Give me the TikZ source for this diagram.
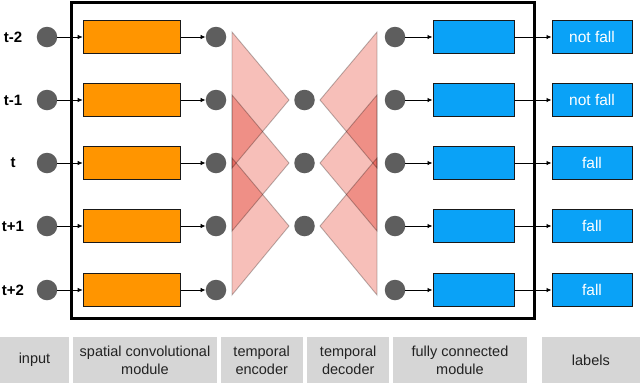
\documentclass[tikz,border=0pt]{standalone}
\usepackage{fontspec}
\setmainfont{Liberation Sans}
\usetikzlibrary{arrows.meta}
\definecolor{dotc}{HTML}{5E5E5E}
\definecolor{orng}{HTML}{FF9500}
\definecolor{blu}{HTML}{0AA2F7}
\definecolor{tril}{HTML}{F7BFB9}
\definecolor{triedge}{HTML}{BBBBBB}
\definecolor{capgray}{HTML}{D6D6D6}
\definecolor{captext}{HTML}{222222}
\begin{document}
\begin{tikzpicture}[x=1pt,y=-1pt,
  dotn/.style={circle,fill=dotc,minimum size=20.5pt,inner sep=0pt},
  obox/.style={draw=black!90,line width=1pt,fill=orng,minimum width=97pt,minimum height=33pt,inner sep=0pt},
  bbox/.style={draw=black!90,line width=1pt,fill=blu,minimum width=81pt,minimum height=33pt,inner sep=0pt},
  lbox/.style={bbox,minimum width=80pt,text=white,font=\fontsize{15.5}{17}\selectfont},
  tlabel/.style={font=\bfseries\fontsize{15}{17}\selectfont,inner sep=0pt},
  arr/.style={-{Latex[length=5pt,width=4.5pt]},line width=0.8pt,black},
  tri/.style={fill=tril,draw=triedge,line width=0.9pt,line join=miter},
  capbox/.style={fill=capgray,minimum height=46pt,inner sep=0pt,align=center,text=captext,font=\fontsize{14.5}{18}\selectfont},
  frame/.style={draw=black,line width=3pt}
]
\useasboundingbox (0,0) rectangle (640,384);
\fill[white] (0,0) rectangle (640,384);

% triangles (encoder and decoder)
\begin{scope}[blend group=multiply]
  \foreach \a/\b/\c in {37/100/163,100/163/226,163/226/290}{
    \draw[tri] (232,\a-5) -- (289,\b) -- (232,\c+5) -- cycle;
    \draw[tri] (377,\a-5) -- (320,\b) -- (377,\c+5) -- cycle;
  }
\end{scope}

% frame
\draw[frame] (71,2) rectangle (534,318);

% rows
\foreach \i/\y/\t/\l in {1/37/t-2/not fall,2/100/t-1/not fall,3/163/t/fall,4/226/t+1/fall,5/290/t+2/fall}{
  \node[tlabel] (tl\i) at (13,\y) {\t};
  \node[dotn] (in\i) at (47,\y) {};
  \node[obox] (ob\i) at (131.7,\y) {};
  \node[dotn] (sp\i) at (216,\y) {};
  \node[dotn] (dc\i) at (395,\y) {};
  \node[bbox] (fc\i) at (473.5,\y) {};
  \node[lbox] (lb\i) at (592,\y) {\l};
  \draw[arr] (in\i) -- (ob\i);
  \draw[arr] (ob\i) -- (sp\i);
  \draw[arr] (dc\i) -- (fc\i);
  \draw[arr] (fc\i) -- (lb\i);
}
% latent nodes
\node[dotn] (md1) at (304.5,100) {};
\node[dotn] (md2) at (304.5,163) {};
\node[dotn] (md3) at (304.5,226) {};

% captions
\node[capbox,minimum width=69pt] (c1) at (34.5,360) {input};
\node[capbox,minimum width=143.4pt] (c2) at (145,360) {spatial convolutional\\module};
\node[capbox,minimum width=82pt] (c3) at (261.7,360) {temporal\\encoder};
\node[capbox,minimum width=81.7pt] (c4) at (348.2,360) {temporal\\decoder};
\node[capbox,minimum width=133.4pt] (c5) at (460,360) {fully connected\\module};
\node[capbox,minimum width=98.3pt] (c6) at (590.9,360) {labels};
\end{tikzpicture}
\end{document}
